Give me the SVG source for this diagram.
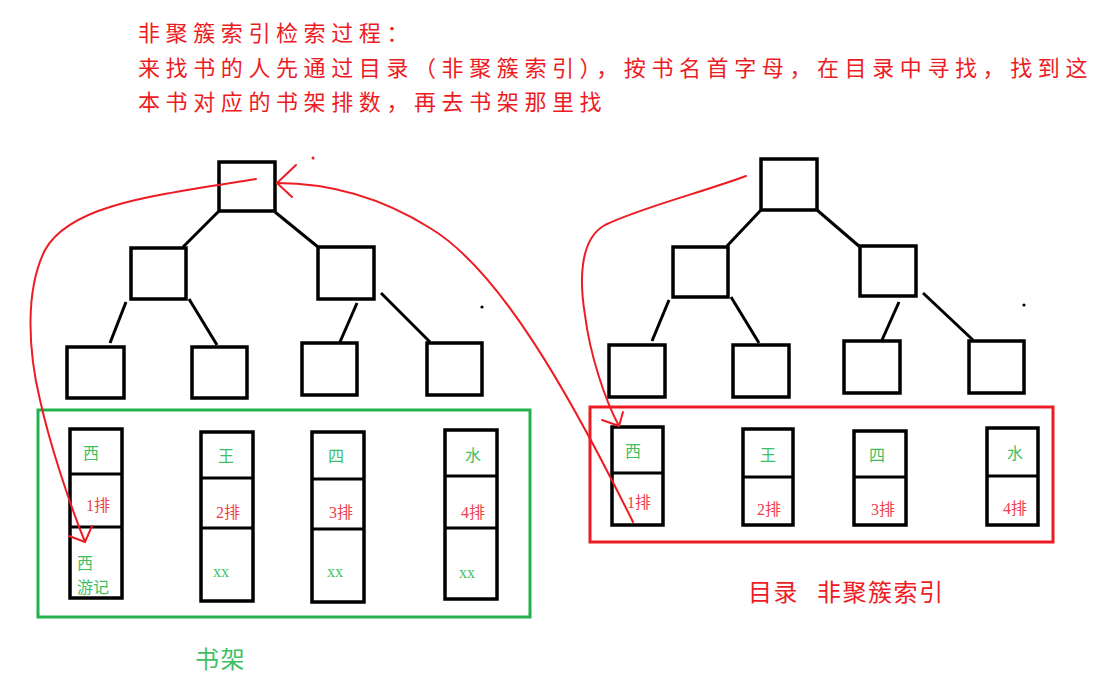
<svg xmlns="http://www.w3.org/2000/svg" width="1108" height="678" viewBox="0 0 1108 678">
<style>
.t{font-family:"Noto Sans CJK SC","Liberation Sans",sans-serif;fill:#ed1c24}
.title{font-size:22px;letter-spacing:5.6px}
.lbl{font-size:24px;letter-spacing:1.5px}
.c{font-family:"Liberation Serif","Noto Sans CJK SC",serif;font-size:16px}
.g{fill:#3fbf63}
.r{fill:#f2404a}
.box{fill:none;stroke:#000;stroke-width:3.5}
.edge{stroke:#000;stroke-width:3;fill:none}
.red{fill:none;stroke:#ed1c24;stroke-width:2;stroke-linecap:round}
</style>
<rect width="1108" height="678" fill="#fff"/>
<g id="title">
<text class="t title" x="138" y="41">非聚簇索引检索过程：</text>
<text class="t title" x="138" y="76">来找书的人先通过目录（非聚簇索引），按书名首字母，在目录中寻找，找到这</text>
<text class="t title" x="138" y="110">本书对应的书架排数，再去书架那里找</text>
</g>
<g id="left-tree">
<rect id="lt-root" class="box" x="219" y="162" width="56" height="49"/>
<rect id="lt-l" class="box" x="131" y="248" width="55" height="51"/>
<rect id="lt-r" class="box" x="318" y="247" width="56" height="52"/>
<rect id="lt-l1" class="box" x="67" y="347" width="57" height="51"/>
<rect id="lt-l2" class="box" x="192" y="347" width="55" height="51"/>
<rect id="lt-l3" class="box" x="302" y="343" width="55" height="52"/>
<rect id="lt-l4" class="box" x="427" y="343" width="55" height="52"/>
</g>
<g id="right-tree">
<rect id="rt-root" class="box" x="761" y="159" width="56" height="51"/>
<rect id="rt-l" class="box" x="673" y="247" width="55" height="50"/>
<rect id="rt-r" class="box" x="860" y="246" width="56" height="50"/>
<rect id="rt-l1" class="box" x="609" y="345" width="56" height="52"/>
<rect id="rt-l2" class="box" x="733" y="345" width="56" height="52"/>
<rect id="rt-l3" class="box" x="844" y="341" width="56" height="52"/>
<rect id="rt-l4" class="box" x="969" y="341" width="55" height="52"/>
</g>
<g id="tree-edges">
<line class="edge" x1="219" y1="211" x2="183" y2="247"/>
<line class="edge" x1="275" y1="212" x2="318" y2="247"/>
<line class="edge" x1="126" y1="302" x2="110" y2="343"/>
<line class="edge" x1="189" y1="299" x2="217" y2="345"/>
<line class="edge" x1="357" y1="303" x2="340" y2="342"/>
<line class="edge" x1="381" y1="293" x2="430" y2="342"/>
<line class="edge" x1="761" y1="210" x2="727" y2="246"/>
<line class="edge" x1="817" y1="210" x2="860" y2="247"/>
<line class="edge" x1="669" y1="300" x2="652" y2="341"/>
<line class="edge" x1="731" y1="297" x2="759" y2="343"/>
<line class="edge" x1="899" y1="302" x2="882" y2="340"/>
<line class="edge" x1="923" y1="293" x2="973" y2="340"/>
</g>
<g id="dots">
<circle cx="313" cy="158" r="1.5" fill="#ed1c24"/>
<circle cx="482" cy="307" r="1.6" fill="#000"/>
<circle cx="1024" cy="305" r="1.6" fill="#000"/>
</g>
<g id="bookshelf">
<rect x="38" y="410" width="492" height="207" fill="none" stroke="#22b14c" stroke-width="3"/>
<g id="shelf1">
<rect class="box" x="70" y="429" width="52" height="169"/>
<line class="edge" x1="70" y1="474" x2="122" y2="474"/>
<line class="edge" x1="70" y1="527" x2="122" y2="527"/>
<text class="c g" x="83" y="459">西</text>
<text class="c r" x="86" y="511">1排</text>
<text class="c g" x="77" y="569">西</text>
<text class="c g" x="77" y="593">游记</text>
</g>
<g id="shelf2">
<rect class="box" x="201" y="432" width="52" height="169"/>
<line class="edge" x1="201" y1="478" x2="253" y2="478"/>
<line class="edge" x1="201" y1="528" x2="253" y2="528"/>
<text class="c g" x="218" y="462">王</text>
<text class="c r" x="216" y="518">2排</text>
<text class="c g" x="213" y="577">xx</text>
</g>
<g id="shelf3">
<rect class="box" x="312" y="432" width="52" height="170"/>
<line class="edge" x1="312" y1="479" x2="364" y2="479"/>
<line class="edge" x1="312" y1="529" x2="364" y2="529"/>
<text class="c g" x="328" y="462">四</text>
<text class="c r" x="329" y="518">3排</text>
<text class="c g" x="327" y="577">xx</text>
</g>
<g id="shelf4">
<rect class="box" x="445" y="430" width="52" height="169"/>
<line class="edge" x1="445" y1="476" x2="497" y2="476"/>
<line class="edge" x1="445" y1="528" x2="497" y2="528"/>
<text class="c g" x="465" y="461">水</text>
<text class="c r" x="461" y="518">4排</text>
<text class="c g" x="459" y="578">xx</text>
</g>
<text class="t lbl" x="195" y="668" style="fill:#3fbf63">书架</text>
</g>
<g id="catalog">
<rect x="590" y="407" width="463" height="135" fill="none" stroke="#ed1c24" stroke-width="3"/>
<g id="cat1">
<rect class="box" x="612" y="427" width="51" height="98"/>
<line class="edge" x1="612" y1="473" x2="663" y2="473"/>
<text class="c g" x="625" y="457">西</text>
<text class="c r" x="627" y="508">1排</text>
</g>
<g id="cat2">
<rect class="box" x="743" y="429" width="50" height="96"/>
<line class="edge" x1="743" y1="477" x2="793" y2="477"/>
<text class="c g" x="760" y="461">王</text>
<text class="c r" x="757" y="515">2排</text>
</g>
<g id="cat3">
<rect class="box" x="854" y="431" width="52" height="94"/>
<line class="edge" x1="854" y1="477" x2="906" y2="477"/>
<text class="c g" x="869" y="461">四</text>
<text class="c r" x="871" y="515">3排</text>
</g>
<g id="cat4">
<rect class="box" x="987" y="428" width="51" height="97"/>
<line class="edge" x1="987" y1="476" x2="1038" y2="476"/>
<text class="c g" x="1007" y="459">水</text>
<text class="c r" x="1003" y="514">4排</text>
</g>
<text class="t lbl" x="748" y="601">目录</text>
<text class="t lbl" x="817" y="601">非聚簇索引</text>
</g>
<g id="connectors">
<path class="red" d="M746,176 C700,193 640,208 605,225 C578,240 580,285 585,315 C590,355 605,400 619,426"/>
<path class="red" d="M602,420 L619,426 L623,412"/>
<path class="red" d="M633,522 C570,395 500,270 430,228 C390,203 340,183 277,183"/>
<path class="red" d="M296,165 L277,183 L292,197"/>
<path class="red" d="M256,179 C150,196 70,205 45,250 C25,290 28,350 40,400 C50,445 70,505 85,542"/>
<path class="red" d="M69,536 L85,542 L92,526"/>
</g>
</svg>
